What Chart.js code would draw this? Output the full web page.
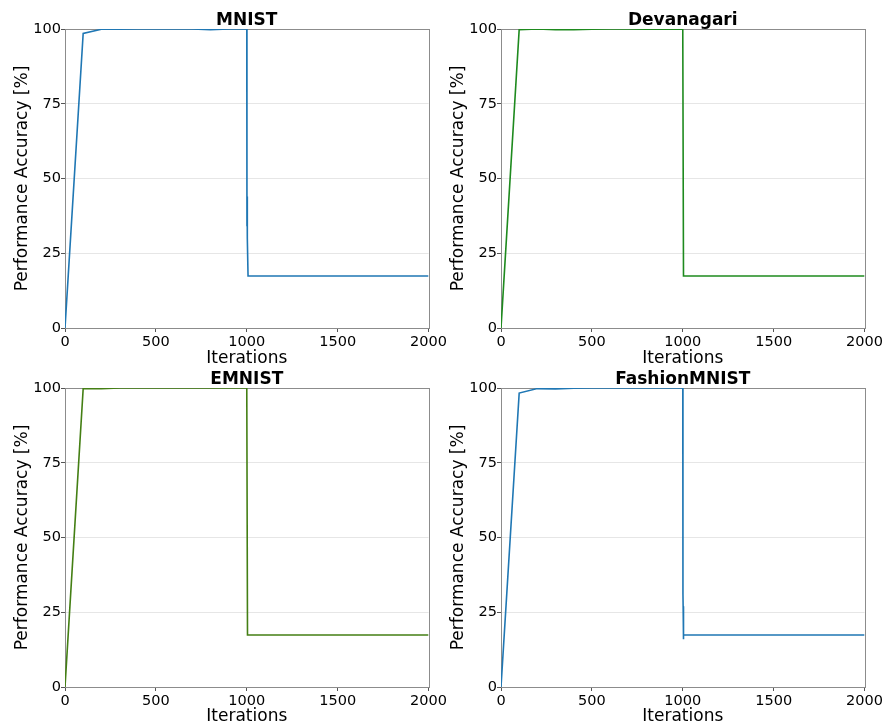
<!DOCTYPE html>
<html>
<head>
<meta charset="utf-8">
<script src="https://cdn.jsdelivr.net/npm/chart.js@4"></script>
<style>
html,body{margin:0;padding:0;background:#fff;}
body{width:885px;height:723px;position:relative;overflow:hidden;}
.c{position:absolute;}
</style>
</head>
<body>
<div class="c" style="left:0;top:0;width:449px;height:370px"><canvas id="c1"></canvas></div>
<div class="c" style="left:436px;top:0;width:449px;height:370px"><canvas id="c2"></canvas></div>
<div class="c" style="left:0;top:359px;width:449px;height:364px"><canvas id="c3"></canvas></div>
<div class="c" style="left:436px;top:359px;width:449px;height:364px"><canvas id="c4"></canvas></div>
<script>
const titles = ["MNIST", "Devanagari", "EMNIST", "FashionMNIST"];
const xTicks = [0, 500, 1000, 1500, 2000];
const yTicks = [0, 25, 50, 75, 100];

const mnistX = [0, 100, 200, 300, 400, 500, 600, 700, 800, 900, 1000, 1001, 1002, 1003, 1007, 2000];
const mnistY = [0, 98.5, 99.9, 99.9, 100, 100, 100, 100, 99.8, 100, 100, 34, 44, 30, 17.4, 17.4];

const devX = [0, 100, 200, 300, 400, 500, 600, 700, 800, 900, 1000, 1004, 2000];
const devY = [0, 99.8, 100, 99.8, 99.8, 99.9, 100, 100, 99.9, 99.9, 99.9, 17.4, 17.4];

const emnistX = [0, 100, 200, 300, 400, 500, 600, 700, 800, 900, 1000, 1004, 2000];
const emnistY = [0, 99.8, 99.8, 100, 100, 100, 100, 100, 100, 100, 100, 17.4, 17.4];

const fashionX = [0, 100, 200, 300, 400, 500, 600, 700, 800, 900, 1000, 1001, 1002, 1003, 1005, 2000];
const fashionY = [0, 98.3, 99.8, 99.7, 99.9, 100, 100, 100, 100, 100, 100, 31, 27, 16, 17.4, 17.4];

const colors = ["#1f77b4", "#1e8a1e", "#447f14", "#1f77b4"];
const seriesX = [mnistX, devX, emnistX, fashionX];
const seriesY = [mnistY, devY, emnistY, fashionY];

const FONT = "DejaVu Sans";

const framePlugin = {
  id: 'frame',
  beforeDatasetsDraw(chart) {
    const a = chart.chartArea, ctx = chart.ctx;
    ctx.save();
    ctx.strokeStyle = '#8c8c8c';
    ctx.lineWidth = 1;
    ctx.strokeRect(Math.round(a.left) + 0.5, Math.round(a.top) + 0.5, Math.round(a.right - a.left), Math.round(a.bottom - a.top));
    ctx.restore();
  },
  afterDraw(chart, args, opts) {
    const a = chart.chartArea, ctx = chart.ctx;
    ctx.save();
    ctx.font = "bold 17px '" + FONT + "'";
    ctx.fillStyle = '#000';
    ctx.textAlign = 'center';
    ctx.textBaseline = 'middle';
    ctx.fillText(opts.text, (a.left + a.right) / 2, a.top - 8);
    ctx.restore();
  }
};

function make(id, i, bottomRow) {
  const pts = seriesX[i].map((x, k) => ({x: x, y: seriesY[i][k]}));
  const H = bottomRow ? 364 : 370;
  new Chart(document.getElementById(id), {
    type: 'line',
    data: {
      datasets: [{
        data: pts,
        borderColor: colors[i],
        borderWidth: 1.6,
        pointRadius: 0,
        fill: false,
        tension: 0
      }]
    },
    options: {
      responsive: true,
      maintainAspectRatio: false,
      animation: false,
      events: [],
      layout: { padding: { top: 29, right: 20, left: 0, bottom: 0 } },
      plugins: {
        legend: { display: false },
        tooltip: { enabled: false },
        frame: { text: titles[i] }
      },
      scales: {
        x: {
          type: 'linear',
          min: 0, max: 2000,
          afterBuildTicks: s => { s.ticks = xTicks.map(v => ({value: v})); },
          afterFit: s => { s.height = H - 29 - 299; },
          ticks: { color: '#000', font: { family: FONT, size: 14.5 }, padding: 2, maxRotation: 0, autoSkip: false, callback: v => String(v) },
          grid: { drawOnChartArea: false, drawTicks: true, tickLength: 4, tickColor: '#555' },
          border: { display: false },
          title: { display: true, text: 'Iterations', color: '#000', font: { family: FONT, size: 17, lineHeight: bottomRow ? 0.7 : 1 }, padding: { top: 0, bottom: bottomRow ? 0 : 3 } }
        },
        y: {
          type: 'linear',
          min: 0, max: 100,
          afterBuildTicks: s => { s.ticks = yTicks.map(v => ({value: v})); },
          afterFit: s => { s.width = 65; },
          ticks: { color: '#000', font: { family: FONT, size: 14.5 }, padding: 0, callback: v => String(v) },
          grid: {
            drawTicks: true, tickLength: 4, tickColor: '#555',
            color: ctx => (ctx.tick && (ctx.tick.value === 0 || ctx.tick.value === 100)) ? 'rgba(0,0,0,0)' : '#e6e6e6',
            lineWidth: 1
          },
          border: { display: false },
          title: { display: true, text: 'Performance Accuracy [%]', color: '#000', font: { family: FONT, size: 17, lineHeight: 1 }, padding: { top: 14, bottom: 0 } }
        }
      }
    },
    plugins: [framePlugin]
  });
}

make('c1', 0, false);
make('c2', 1, false);
make('c3', 2, true);
make('c4', 3, true);
</script>
</body>
</html>
